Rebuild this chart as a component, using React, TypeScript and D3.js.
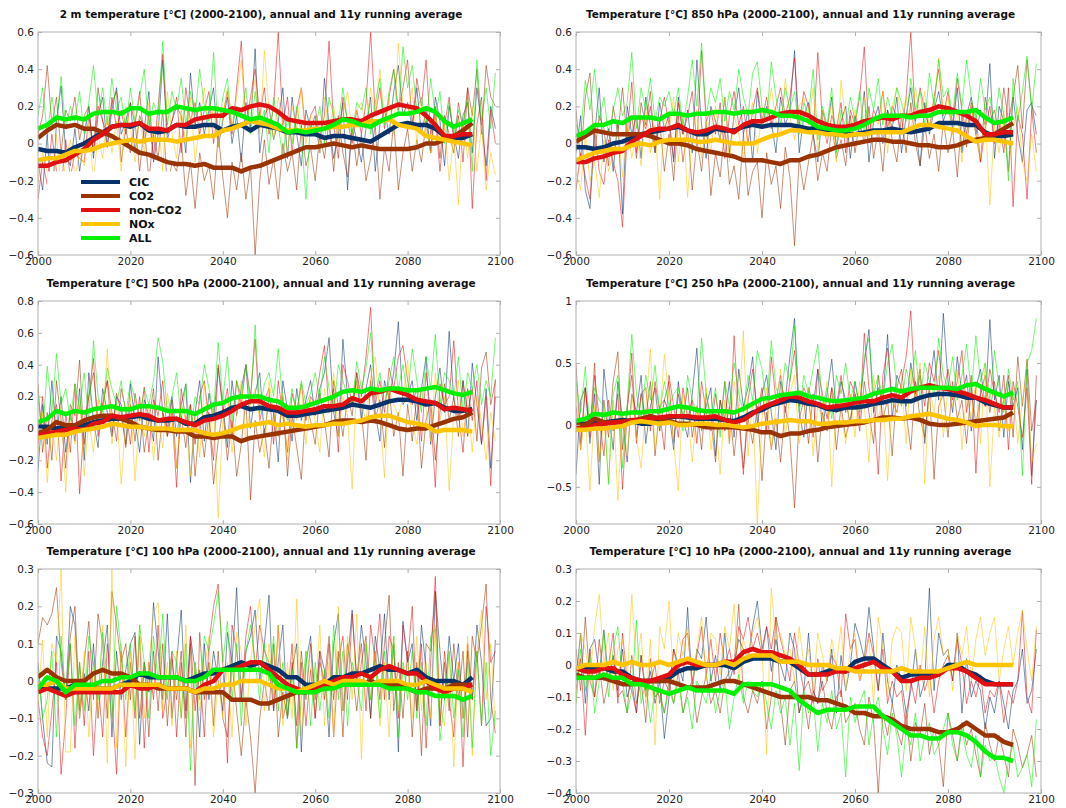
import React, { useEffect, useRef } from "react";
import * as d3 from "d3";

// all values in 1/100 degC
const annualYears = d3.range(2000, 2100);
const avgYears = d3.range(2000, 2096, 2);
const xTicks = [2000, 2020, 2040, 2060, 2080, 2100];
const seriesNames = ["CIC", "CO2", "non-CO2", "NOx", "ALL"];
const seriesColors = ["#07336a", "#9a3300", "#e01010", "#ffc400", "#00f000"];

// ---- 2 m temperature
const t2mCicAnn = [-10,-25,5,-38,12,31,-5,-12,8,-15, 3,20,-8,15,25,-2,18,30,5,12, 22,-5,15,8,28,-10,5,45,2,12, 20,15,-5,38,10,22,5,18,30,-2, 12,25,0,15,-10,22,8,51,-5,15, 20,2,12,30,-8,25,5,-12,18,8, 15,-5,35,10,-8,5,22,-25,12,2, -10,8,25,-15,10,18,5,28,42,15, 22,8,30,5,18,-5,25,12,-12,20, 5,-8,15,22,-5,30,10,-12,20,8];
const t2mCo2Ann = [5,15,42,10,25,-5,18,12,25,2, 15,20,-5,30,12,5,22,28,-10,8, -5,12,-15,10,-20,5,-8,18,-25,-10, -15,2,-28,-10,-35,-5,-20,-12,-30,5, -18,-40,-10,-25,-5,-30,-12,-60,-20,2, -22,-8,-30,0,-15,-5,-25,10,-12,-2, -20,5,-8,12,-15,15,-5,-18,8,-12, 5,-20,-8,10,-30,-2,-15,12,-25,-5, 8,-15,2,-10,12,-5,20,-8,15,5, -5,22,8,30,15,40,5,42,25,20];
const t2mNonAnn = [-30,-10,-22,5,-15,-25,2,-18,-5,-8, -10,15,-5,20,12,-2,25,8,18,5, 22,10,28,0,15,-8,20,48,5,12, 25,-5,30,12,22,5,18,28,0,20, 15,28,5,30,55,10,25,40,15,30, 5,20,60,10,25,-5,18,30,5,15, 20,2,15,55,10,-8,25,12,0,18, 5,22,60,15,30,8,25,40,18,30, 45,10,35,20,45,5,15,-15,10,25, 0,15,-10,30,-35,10,25,-20,18,0];
const t2mNoxAnn = [-20,-5,-15,-30,5,-25,-10,2,-18,-5, -12,10,-20,5,-8,15,-5,12,-15,20, 8,-10,15,-5,22,0,12,-15,28,5, -8,18,0,25,-10,12,30,5,20,-2, 15,30,8,25,45,12,20,35,5,50, 18,2,25,10,-5,20,8,30,0,15, 12,-5,25,8,20,0,15,28,5,18, 22,8,30,15,40,12,25,5,54,20, 15,30,0,22,8,-5,15,2,10,-20, 5,-33,12,-8,20,-15,10,-25,-5,-17];
const t2mAllAnn = [15,30,5,25,10,36,8,20,12,28, 5,22,42,15,30,10,35,18,25,8, 30,12,25,40,8,22,15,55,10,28, 18,35,10,28,15,40,20,12,49,5, 25,35,8,20,15,30,5,28,10,18, -5,25,10,-8,15,0,20,5,-30,12, 8,20,0,25,15,10,30,12,5,22, 18,30,5,22,35,10,28,40,15,52, 30,42,18,25,10,35,15,28,0,22, 5,18,10,25,-15,45,12,30,8,38];
const t2mCicAvg = [-3,-4,-4,-5,-2,0,3,6,9,10,9,11,7,6,7,10,9,9,10,10,7,9,10,7,10,9,8,6,6,5,5,3,4,4,3,2,1,4,7,10,11,10,10,8,4,3,3,5];
const t2mCo2Avg = [3,7,10,9,10,8,8,6,4,1,-2,-5,-6,-8,-10,-11,-11,-12,-11,-13,-13,-13,-15,-13,-12,-10,-8,-6,-4,-2,-2,-1,0,-1,-2,-1,-2,-3,-3,-3,-3,-2,0,0,2,4,7,11];
const t2mNonAvg = [-12,-12,-10,-9,-6,-3,2,5,9,10,10,11,8,8,7,10,10,13,14,15,15,19,18,20,21,20,17,13,12,11,11,11,12,13,13,12,15,17,19,21,20,19,15,10,4,4,5,5];
const t2mNoxAvg = [-9,-8,-8,-6,-4,-4,-3,-1,0,1,2,1,2,2,2,1,2,3,4,4,7,8,10,12,11,10,8,7,7,7,8,8,9,9,10,10,12,12,13,10,9,8,4,3,2,1,0,-1];
const t2mAllAvg = [8,10,14,13,14,13,16,17,17,16,19,19,16,17,17,20,19,18,19,19,18,17,15,13,14,12,10,6,7,6,7,8,10,13,12,10,9,12,14,16,16,17,19,17,12,9,11,13];

// ---- 850 hPa
const t850CicAnn = [-5,15,-25,-35,5,30,-10,8,-15,12, -38,20,5,15,-8,25,10,-5,22,8, 15,-10,25,5,18,-5,45,10,-8,20, 12,2,25,-5,15,30,5,18,-10,28, 8,20,12,-5,25,10,18,50,-5,15, 22,5,-10,18,8,25,-2,12,20,-8, 15,5,28,-10,12,20,0,18,8,25, -5,15,30,10,-12,22,5,18,28,12, 20,8,30,-5,15,25,5,18,10,43, -8,20,12,-15,25,5,-10,18,22,5];
const t850Co2Ann = [18,-10,25,38,-5,15,8,-12,20,5, 30,2,15,-8,22,10,28,-5,12,-15, 5,-20,15,-10,8,-25,2,-15,12,-28, -5,-18,8,-22,-12,-30,5,-28,-15,-10, -40,-5,-22,-12,-35,-2,-18,-55,-8,-25, -10,5,-20,-5,-15,10,-8,2,-12,15, -5,12,0,20,-8,8,-15,18,2,-10, 15,-5,22,0,-12,10,-8,5,-15,12, -5,8,-18,15,-2,20,5,-10,25,12, 18,5,30,12,25,42,8,45,20,15];
const t850NonAnn = [-25,-5,-18,-30,8,-15,-22,2,-10,-20, -45,5,33,-5,15,8,20,-2,12,25, 10,-8,22,5,15,28,0,50,12,18, 5,22,-8,15,28,10,20,0,18,30, 12,25,8,20,30,15,25,46,10,28, 20,5,49,12,0,15,8,22,-5,18, 10,25,52,5,18,12,28,8,20,15, 5,25,60,12,30,18,8,25,40,15, 28,10,35,18,5,22,15,-10,8,20, 0,12,-5,30,-34,15,5,-30,18,-5];
const t850NoxAnn = [-15,-25,5,-20,-10,-29,2,-15,-5,8, -18,12,-8,5,-12,20,-5,10,-30,15, 8,25,-10,15,-29,5,18,-8,12,-5, 20,2,25,-10,15,5,-8,10,22,-5, 18,8,30,12,5,35,15,2,20,25, 10,30,-5,18,8,22,-10,34,12,5, 18,8,25,2,15,10,28,-5,20,30, 12,25,5,30,15,28,8,20,46,15, 25,5,18,-10,12,20,5,-8,15,-33, 10,-5,18,-15,8,20,-10,-20,5,-15];
const t850AllAnn = [10,5,34,18,40,12,25,5,18,30, 15,22,49,8,30,18,35,12,25,20, 28,15,30,10,25,45,20,54,15,30, 22,35,12,28,18,40,25,15,38,44, 20,12,44,25,10,30,18,28,5,22, 15,40,2,20,10,30,-5,18,8,25, 12,28,5,30,18,35,10,25,15,30, 22,12,35,18,28,10,38,20,45,25, 30,15,38,20,45,25,12,35,18,25, 10,30,15,-20,35,12,28,47,18,43];
const t850CicAvg = [-2,-2,-3,-2,0,1,3,5,6,7,8,9,7,5,5,8,7,7,9,10,9,10,10,10,9,8,8,6,5,5,5,6,7,7,8,7,6,7,8,11,11,11,10,10,6,4,4,5];
const t850Co2Avg = [1,4,7,6,5,5,5,5,4,2,0,0,-1,-3,-4,-5,-6,-7,-9,-9,-9,-10,-11,-9,-9,-7,-6,-4,-2,-1,0,1,2,2,1,1,0,-1,-1,-2,-2,-1,1,2,3,5,8,11];
const t850NonAvg = [-10,-10,-8,-7,-5,-4,1,4,7,8,8,10,7,6,7,9,8,6,10,12,12,14,16,17,17,15,12,10,9,9,10,12,13,14,13,15,15,17,18,20,19,17,15,12,5,5,6,6];
const t850NoxAvg = [-9,-7,-5,-4,-3,-3,-1,0,-1,1,2,2,2,1,1,2,1,0,0,0,2,4,5,7,7,6,6,5,5,4,5,5,6,6,6,6,8,10,10,9,8,7,4,1,2,2,1,0];
const t850AllAvg = [4,6,10,10,12,11,14,14,14,13,16,16,15,16,16,17,17,16,17,17,18,17,15,15,14,12,9,8,7,7,8,10,13,15,15,15,14,15,15,17,17,17,17,18,14,11,12,14];

// ---- 500 hPa
const t500CicAnn = [-27,15,-10,30,-5,20,-15,10,-8,25, -20,35,5,-12,25,10,-5,20,15,-10, 28,5,-15,18,8,-8,45,10,0,20, -5,15,28,-34,10,30,-8,22,5,38, 15,-12,30,8,25,40,0,22,35,-5, 20,10,-21,30,12,-8,25,5,18,30, 8,25,35,57,10,-5,56,20,15,30, 5,25,40,10,-8,30,18,35,67,15, 20,30,5,25,45,-10,20,38,10,61, 18,5,30,-5,41,15,-10,25,-25,20];
const t500Co2Ann = [28,-15,10,-20,30,5,-25,15,8,43, -10,20,35,5,15,30,-5,22,10,-12, 15,-8,20,-15,5,25,-20,10,-5,18, -25,8,-12,15,-30,5,-18,10,-35,-8, 12,-20,5,-30,-10,18,-45,5,-15,0, -25,10,-5,20,-30,8,-12,-32,15,5, -10,22,5,-18,30,15,-5,20,8,35, 10,-20,30,5,18,-12,25,-5,10,-30, 15,-8,20,-25,5,18,-20,10,28,5, 20,-5,30,10,25,-8,38,48,15,30];
const t500NonAnn = [-10,20,-25,5,15,-33,10,-15,28,-41, 5,20,44,-5,15,30,10,-8,25,12, -10,22,5,26,-15,18,8,30,-5,10, -37,25,5,15,-10,20,30,5,-20,40, 10,25,-5,30,15,40,20,56,5,18, 25,-10,30,8,-15,22,10,28,5,20, 15,35,52,10,25,-15,40,30,15,35, 20,45,76,15,30,10,38,25,45,52, 30,15,25,-8,35,10,-37,28,15,20, 55,10,-15,25,5,30,-10,20,-36,31];
const t500NoxAnn = [-15,10,-34,5,-20,15,-40,8,-10,20, -30,5,-15,18,2,50,-10,15,-35,5, 20,-33,10,-5,15,-20,8,-12,22,5, -25,15,5,-30,10,-18,28,-5,15,-56, 5,20,-15,10,30,-8,15,25,5,-18, 30,10,-5,22,-20,15,5,28,-10,18, 5,-15,25,10,35,-5,20,8,-38,30, 15,5,32,45,10,-31,25,15,8,20, 43,5,-10,25,12,-8,35,5,20,-39, 10,30,-5,15,-15,20,5,-20,10,-8];
const t500AllAnn = [20,-5,39,10,47,15,25,5,28,12, 35,5,55,20,10,38,25,15,30,8, 30,18,5,25,15,30,57,42,10,20, 35,5,28,-5,20,15,40,25,10,54, 18,45,5,30,20,40,15,65,10,28, 35,20,50,15,5,25,10,30,15,22, 35,18,45,25,10,40,30,20,15,42, 25,38,60,20,35,15,30,45,25,40, 20,50,30,10,45,25,59,15,35,30, 20,45,10,35,25,40,15,30,20,57];
const t500CicAvg = [1,1,0,1,2,2,4,5,6,6,7,8,6,5,5,6,3,3,7,8,10,13,14,12,13,12,11,8,8,9,10,11,12,13,15,14,13,15,17,18,18,17,15,16,13,11,11,12];
const t500Co2Avg = [-3,-1,4,2,2,5,7,8,8,6,4,1,0,-1,-1,-2,-2,-5,-5,-6,-5,-5,-8,-6,-5,-4,-3,-2,-1,0,1,2,4,5,5,4,5,4,2,0,-1,0,0,2,4,6,7,10];
const t500NonAvg = [-4,-3,-2,-1,0,-1,3,4,8,7,8,9,8,5,6,6,4,2,5,6,8,11,15,17,17,14,13,10,10,11,12,14,14,15,19,17,22,23,25,23,21,18,17,16,12,13,12,11];
const t500NoxAvg = [-6,-5,-4,-4,-2,-1,0,1,3,2,1,1,0,0,0,-1,-1,-1,-3,-4,-3,-1,1,2,3,4,2,3,2,1,2,2,3,3,4,5,7,8,8,6,4,3,2,-2,-1,-1,-1,-2];
const t500AllAvg = [4,6,11,9,11,10,12,13,14,12,12,14,14,13,11,11,11,9,12,15,16,19,20,20,20,18,17,13,13,14,16,18,20,23,24,23,25,24,25,25,24,24,25,26,24,22,21,23];

// ---- 250 hPa
const t250CicAnn = [-40,20,30,-15,25,-48,45,10,-20,35, 5,-30,25,10,40,-15,15,30,-5,20, 10,-20,35,5,-10,25,62,-5,15,30, -25,20,5,35,-10,45,15,30,55,0, 25,40,10,-20,35,20,55,86,10,-10, 30,15,45,-5,25,53,10,35,20,0, 35,15,50,77,10,30,20,73,5,40, 30,15,50,25,45,-15,30,60,20,90, 35,10,55,25,40,-5,30,45,15,85, 20,40,-10,35,15,30,-20,45,-41,20];
const t250Co2Ann = [49,-15,30,-5,50,-30,20,-10,35,59, -20,15,40,-10,25,5,35,-25,15,20, 35,-15,25,5,30,-10,15,-20,25,5, -30,20,-5,15,-25,10,-35,5,-15,15, -45,10,-20,5,-30,15,-10,-67,5,20, -15,25,-30,10,-5,30,-20,15,-10,5, 25,-5,35,10,-15,40,5,20,-25,30, 45,10,-20,35,5,-10,30,-44,15,25, -10,35,5,20,-15,30,0,25,40,10, 35,-5,20,40,-10,55,15,53,-5,20];
const t250NonAnn = [15,-20,30,-10,40,5,-25,20,-5,25, -52,10,58,-15,25,30,-5,35,10,-20, 40,15,-10,30,5,20,-15,35,10,-5, 25,0,35,-15,72,5,-40,20,45,10, 30,-5,55,20,40,10,35,60,15,30, 20,-10,45,25,5,30,15,40,10,35, 25,5,74,30,15,-40,40,62,20,10, 35,55,92,20,40,15,50,35,60,25, 45,20,35,60,10,40,-39,30,15,45, 25,10,40,-20,35,15,-10,30,-48,40];
const t250NoxAnn = [28,-20,10,-53,15,-30,5,-45,20,-61, 10,-25,25,-10,-35,15,61,-20,5,57, 20,-15,-53,25,10,-30,15,-5,30,-20, 5,-40,20,-15,35,10,76,-25,20,-80, 5,30,-20,15,45,-10,25,40,-15,10, 30,-25,15,5,35,-50,20,10,-15,25, -10,35,15,-30,40,5,25,-45,20,10, 35,-15,45,20,50,-48,30,10,40,-10, 30,15,45,-20,25,5,35,-15,50,-50, 15,-10,25,-5,30,-15,20,40,-30,-15];
const t250AllAnn = [35,10,47,-5,30,20,15,-48,25,40, -35,15,73,25,5,40,20,48,10,35, 15,25,30,-5,40,20,10,70,25,5, 30,-10,35,15,50,25,10,40,20,60, 45,15,68,30,20,50,35,80,10,40, 25,45,65,15,30,5,40,25,50,20, 35,10,55,70,25,40,20,50,65,30, 15,45,30,60,20,50,35,25,70,40, 30,55,20,40,65,25,72,35,50,20, 60,30,10,45,20,35,-41,50,60,86];
const t250CicAvg = [1,1,2,2,3,4,3,1,1,5,6,7,6,5,5,5,4,3,6,10,12,16,18,20,19,17,16,13,12,14,14,15,17,18,20,19,19,22,24,25,25,24,22,22,18,16,14,14];
const t250Co2Avg = [0,0,5,2,2,3,3,5,7,5,3,1,1,0,-2,-2,-2,-2,-3,-4,-6,-6,-9,-7,-7,-5,-4,-2,-1,0,1,2,4,6,6,5,6,4,1,0,0,1,2,3,4,5,6,10];
const t250NonAvg = [-3,-3,0,1,2,2,4,4,5,6,7,7,7,6,6,7,4,2,4,9,14,17,20,23,22,19,17,14,15,16,18,19,19,22,24,22,27,30,32,30,29,27,25,22,20,17,14,14];
const t250NoxAvg = [-4,-4,-3,-3,-2,-1,2,3,2,1,2,0,0,1,1,0,0,-1,-2,-1,1,2,3,4,3,3,1,1,2,2,3,3,4,4,5,5,7,8,9,7,5,4,2,-1,0,0,-1,-1];
const t250AllAvg = [3,5,9,8,10,9,10,10,11,11,13,15,14,12,11,11,11,10,13,17,21,22,24,25,26,23,22,20,19,20,21,22,25,27,29,27,29,30,30,30,30,29,32,33,29,26,23,26];

// ---- 100 hPa
const t100CicAnn = [5,-10,-22,-23,12,8,-5,20,15,-10, 2,-8,10,-10,5,15,-15,8,-5,3, 10,13,-17,5,-3,21,8,-5,18,-10, 5,19,-8,12,3,-15,10,-5,8,0, -8,13,5,25,-5,8,12,19,0,10, 23,-8,5,15,-10,3,10,-19,5,12, -5,8,3,-15,10,18,-8,5,19,0, 15,5,-10,12,3,18,-5,10,-19,16, 5,10,-8,15,3,-12,24,8,-5,12, 0,10,-10,8,-5,15,5,-12,-10,11];
const t100Co2Ann = [10,17,15,18,25,5,-5,12,20,-8, 5,16,-5,18,10,-10,24,15,5,10, -5,12,-10,5,-15,8,-8,10,-12,6, -5,8,-15,10,-28,13,-5,5,-12,8, -10,-15,5,-8,-20,-5,-15,-30,-10,0, -8,10,-15,-3,-10,5,-12,8,-5,10, -10,5,0,12,-5,8,-15,10,3,-8, 5,12,-10,8,-5,10,23,-8,5,-10, 8,-15,5,-20,10,8,24,-12,5,-8, 10,-5,8,-15,12,5,15,26,-5,-14];
const t100NonAnn = [-5,-15,-20,-8,5,-25,-10,10,-18,5, -12,8,-20,0,-15,10,-5,-25,8,-15, 5,-10,12,-18,5,-5,15,-10,-2,8, -15,5,-10,12,-8,3,-15,10,20,26, 5,-22,15,8,-5,12,20,3,15,8, 5,-8,15,-10,-5,10,-18,5,-12,3, -10,8,-5,10,-15,5,12,-5,18,0, 10,-8,15,5,18,-5,12,8,-10,15, 5,20,-8,10,-18,5,28,-12,8,-5, -15,5,-23,10,-5,8,-12,20,5,8];
const t100NoxAnn = [-5,11,-15,10,5,30,-19,-19,12,-10, 8,-15,5,-10,15,-22,30,-18,10,-23, 8,-21,15,-10,5,18,21,-8,5,-12, 8,-10,15,-18,5,-8,3,12,-15,0, -10,5,-15,13,8,-12,5,15,22,-8, 10,-5,15,-12,5,-10,22,-15,8,3, -5,15,-12,5,-15,20,-8,12,-5,18, -21,10,-5,8,-12,5,-15,12,-8,3, 5,-10,12,-8,5,-10,15,-5,-12,8, -23,5,-10,12,-20,8,19,-5,10,-12];
const t100AllAnn = [3,-10,-5,8,-15,12,-5,10,-12,5, -8,12,5,-5,13,0,-10,20,8,-5, 10,-8,15,5,-10,12,0,18,-5,8, 5,-10,10,-24,5,-5,12,8,15,24, 5,16,-5,10,-12,8,15,5,-5,10, 0,12,-8,5,-10,3,-18,-5,8,-12, 5,-8,3,-10,15,-5,8,-12,5,0, -8,10,-5,5,-10,8,-3,12,-15,5, -5,8,-10,5,-12,12,14,-16,-5,8, -10,3,-15,5,-18,8,-12,5,-20,-8];
const t100CicAvg = [-2,-2,-2,-2,-1,-1,-2,-2,-2,-1,0,2,1,1,1,1,0,1,2,2,3,4,5,4,5,4,3,1,1,-1,-1,-1,1,1,2,2,3,4,3,3,2,3,1,0,0,0,-1,1];
const t100Co2Avg = [1,3,1,0,0,0,2,3,2,2,1,-1,-1,-2,-2,-2,-2,-3,-3,-3,-3,-5,-5,-5,-6,-6,-5,-4,-3,-3,-2,-2,-1,-1,-1,-1,0,-1,-1,-1,-2,-3,-2,-2,-2,-1,-1,-1];
const t100NonAvg = [-3,-2,-3,-4,-3,-3,-3,-3,-3,-3,-1,-2,-2,-1,-2,-2,-2,-3,-1,0,3,3,4,5,5,3,1,-1,-2,-3,-2,-1,0,1,1,2,1,3,4,3,2,2,0,-2,-3,-2,-2,-1];
const t100NoxAvg = [-1,-1,0,-2,-2,-2,-2,-2,-2,-1,-1,-1,-1,-1,-2,-2,-2,-3,-2,-2,-1,-1,0,0,0,-1,-2,-2,-3,-2,-1,0,-1,0,0,0,-1,0,0,0,-1,-1,0,-1,-2,-2,-2,-3];
const t100AllAvg = [-2,1,0,-3,-1,-1,-1,0,0,1,1,2,2,1,1,1,0,0,1,3,3,3,3,3,3,2,-1,-2,-3,-3,-3,-2,-2,-1,-1,-1,-1,-1,-2,-2,-2,-3,-3,-4,-4,-4,-5,-4];

// ---- 10 hPa
const t10CicAnn = [-5,10,-12,5,8,-3,11,-5,3,-8, 5,-10,-5,-15,3,-8,-2,-12,-5,-23, -10,5,0,-5,18,-8,5,2,15,-5, 3,-8,10,-5,0,8,5,2,12,20, 5,12,-2,8,0,-5,10,5,-15,-8, 10,-8,-12,0,-5,5,-15,3,-8,0, 13,8,2,18,5,-8,10,-5,-12,0, -5,-15,-8,5,-10,-5,24,-8,10,3, 5,-5,10,-15,2,-10,-5,-8,-20,-10, -15,-5,-12,-20,-8,-5,5,-12,-8,5];
const t10Co2Ann = [5,-8,15,-5,-10,0,-12,-5,2,-10, -8,-15,3,-12,-5,-18,2,-10,-8,-15, -5,-12,-2,-15,-8,-5,-18,-10,-3,-12, -8,-15,-5,-2,0,19,-10,-15,-8,-12, -5,-20,-10,15,-12,-25,-8,-5,-15,-10, -20,-8,-12,-5,-15,-20,-10,-8,-18,-15, -12,-20,-25,-10,-18,-40,-15,-22,-12,-20, -25,-15,-30,-18,-22,-12,-28,-20,-25,-38, -15,-22,-30,-18,-25,-20,-28,-35,-18,-25, -30,-22,-28,-35,-20,-25,-32,-28,-22,-35];
const t10NonAnn = [-8,2,-22,5,-10,8,-5,0,10,-12, 10,-5,-8,-15,3,-10,-5,0,-12,-5, -8,5,-2,8,10,-5,3,12,-3,8, -5,10,0,5,-3,12,8,15,5,10, 3,12,5,15,8,2,-5,10,0,-8, -5,-12,2,-8,-5,3,0,-10,16,5, 8,-5,0,10,3,-8,5,-12,-5,-10, -8,-20,-5,-12,0,-8,-3,-15,-5,0, 3,-5,8,0,-12,-5,-10,-3,-15,-8, -10,-5,-18,-8,-12,-5,17,-10,-15,11];
const t10NoxAnn = [-12,10,5,-5,12,22,0,10,-8,5, 8,-5,22,0,10,-12,8,-25,12,5, 20,-5,10,3,12,-8,5,15,-5,10, 8,-3,12,5,19,-5,8,3,10,15, 5,-28,24,8,10,3,5,-5,12,0, 5,-8,10,3,-5,8,0,12,-8,5, 10,-5,3,8,-12,15,5,-10,8,12, 10,-8,15,5,-5,12,-10,8,15,3, 5,-8,10,3,12,-5,8,15,3,10, 15,-5,5,12,0,10,17,5,-5,12];
const t10AllAnn = [-12,5,-8,3,-15,-5,10,-10,5,12, -5,-15,-8,14,-12,-5,-18,-8,-10,-15, -8,-12,-5,-15,-10,-20,-5,-8,-12,-3, -15,-8,-5,-20,-10,-3,-12,-5,-8,-10, -5,-12,-20,-8,-15,-10,-25,-12,-33,-8, -15,-10,-27,-12,-18,-8,-20,-15,-35,-10, -18,-12,-8,-25,-15,-10,-20,-28,-15,-22, -35,-20,-25,-15,-30,-22,-18,-28,-25,-20, -15,-25,-30,-20,-28,-32,-22,-35,-25,-30, -28,-35,-40,-30,-25,-35,-32,-28,-38,-17];
const t10CicAvg = [-1,-1,-1,-1,-2,-2,-4,-5,-5,-5,-4,-2,-1,-1,0,0,0,-1,1,2,2,2,1,1,-1,-3,-3,-2,-1,-2,1,2,2,0,-2,-4,-3,-3,-3,-3,0,0,-2,-3,-5,-6,-6,-6];
const t10Co2Avg = [-3,-4,-4,-4,-5,-6,-6,-5,-5,-5,-5,-6,-7,-7,-7,-6,-5,-5,-6,-7,-8,-9,-10,-10,-10,-10,-11,-11,-12,-13,-15,-15,-16,-16,-17,-19,-20,-20,-20,-21,-21,-20,-18,-20,-22,-22,-24,-25];
const t10NonAvg = [-1,-2,-2,-1,-1,-3,-4,-5,-5,-4,-3,0,1,0,0,0,1,1,4,5,4,4,3,2,0,-3,-3,-3,-2,-2,-1,0,1,-1,-2,-5,-5,-4,-4,-3,-1,-1,-2,-4,-6,-6,-6,-6];
const t10NoxAvg = [-1,0,0,0,1,0,1,0,0,1,0,1,2,1,0,0,1,0,2,3,3,3,1,1,1,0,0,0,-1,-1,-2,-2,-2,-2,-2,-1,-2,-2,-2,-2,-1,0,1,0,0,0,0,0];
const t10AllAvg = [-4,-4,-4,-3,-4,-4,-6,-6,-7,-8,-9,-8,-7,-8,-8,-8,-8,-9,-6,-6,-6,-6,-7,-8,-11,-13,-15,-14,-14,-14,-13,-13,-13,-16,-18,-20,-22,-22,-23,-23,-21,-21,-22,-24,-27,-29,-29,-30];

const titles = [
  "2 m temperature [°C] (2000-2100), annual and 11y running average",
  "Temperature [°C] 850 hPa (2000-2100), annual and 11y running average",
  "Temperature [°C] 500 hPa (2000-2100), annual and 11y running average",
  "Temperature [°C] 250 hPa (2000-2100), annual and 11y running average",
  "Temperature [°C] 100 hPa (2000-2100), annual and 11y running average",
  "Temperature [°C] 10 hPa (2000-2100), annual and 11y running average",
];
const yDomains = [[-0.6, 0.6], [-0.6, 0.6], [-0.6, 0.8], [-0.8, 1], [-0.3, 0.3], [-0.4, 0.3]];
const yTicks = [
  [-0.6, -0.4, -0.2, 0, 0.2, 0.4, 0.6],
  [-0.6, -0.4, -0.2, 0, 0.2, 0.4, 0.6],
  [-0.6, -0.4, -0.2, 0, 0.2, 0.4, 0.6, 0.8],
  [-0.5, 0, 0.5, 1],
  [-0.3, -0.2, -0.1, 0, 0.1, 0.2, 0.3],
  [-0.4, -0.3, -0.2, -0.1, 0, 0.1, 0.2, 0.3],
];
const annual = [
  [t2mCicAnn, t2mCo2Ann, t2mNonAnn, t2mNoxAnn, t2mAllAnn],
  [t850CicAnn, t850Co2Ann, t850NonAnn, t850NoxAnn, t850AllAnn],
  [t500CicAnn, t500Co2Ann, t500NonAnn, t500NoxAnn, t500AllAnn],
  [t250CicAnn, t250Co2Ann, t250NonAnn, t250NoxAnn, t250AllAnn],
  [t100CicAnn, t100Co2Ann, t100NonAnn, t100NoxAnn, t100AllAnn],
  [t10CicAnn, t10Co2Ann, t10NonAnn, t10NoxAnn, t10AllAnn],
];
const running = [
  [t2mCicAvg, t2mCo2Avg, t2mNonAvg, t2mNoxAvg, t2mAllAvg],
  [t850CicAvg, t850Co2Avg, t850NonAvg, t850NoxAvg, t850AllAvg],
  [t500CicAvg, t500Co2Avg, t500NonAvg, t500NoxAvg, t500AllAvg],
  [t250CicAvg, t250Co2Avg, t250NonAvg, t250NoxAvg, t250AllAvg],
  [t100CicAvg, t100Co2Avg, t100NonAvg, t100NoxAvg, t100AllAvg],
  [t10CicAvg, t10Co2Avg, t10NonAvg, t10NoxAvg, t10AllAvg],
];

const colX = [[38, 500], [576, 1041]];
const rowY = [[32, 255], [301, 524], [569, 793]];
const FONT = "'DejaVu Sans', sans-serif";

export default function App() {
  const ref = useRef<SVGSVGElement>(null);

  useEffect(() => {
    const svg = d3.select(ref.current);
    svg.selectAll("*").remove();
    const defs = svg.append("defs");

    titles.forEach((title, i) => {
      const [left, right] = colX[i % 2];
      const [top, bottom] = rowY[Math.floor(i / 2)];
      const x = d3.scaleLinear().domain([2000, 2100]).range([left, right]);
      const y = d3.scaleLinear().domain(yDomains[i]).range([bottom, top]);

      defs.append("clipPath").attr("id", "clip" + i)
        .append("rect")
        .attr("x", left).attr("y", top)
        .attr("width", right - left).attr("height", bottom - top);

      const g = svg.append("g");
      const plot = g.append("g").attr("clip-path", `url(#clip${i})`);

      const thinLine = d3.line<number>()
        .x((d, j) => x(annualYears[j]))
        .y((d) => y(d / 100));
      const thickLine = d3.line<number>()
        .x((d, j) => x(avgYears[j]))
        .y((d) => y(d / 100));

      annual[i].forEach((vals, k) => {
        plot.append("path")
          .attr("d", thinLine(vals))
          .attr("fill", "none")
          .attr("stroke", seriesColors[k])
          .attr("stroke-width", 0.9)
          .attr("stroke-opacity", 0.6);
      });

      if (i === 0) {
        // legend box hides the thin lines under it
        plot.append("rect")
          .attr("x", x(2002)).attr("y", y(-0.15))
          .attr("width", x(2031) - x(2002)).attr("height", bottom - y(-0.15) - 1)
          .attr("fill", "white");
      }

      running[i].forEach((vals, k) => {
        plot.append("path")
          .attr("d", thickLine(vals))
          .attr("fill", "none")
          .attr("stroke", seriesColors[k])
          .attr("stroke-width", 4.5)
          .attr("stroke-linejoin", "round");
      });

      // frame
      g.append("rect")
        .attr("x", left).attr("y", top)
        .attr("width", right - left).attr("height", bottom - top)
        .attr("fill", "none").attr("stroke", "#b0b0b0");

      const styleAxis = (sel: any) => {
        sel.select(".domain").remove();
        sel.selectAll("line").attr("stroke", "#b0b0b0");
        sel.selectAll("text").attr("fill", "#222").style("font-family", FONT).style("font-size", "10.5px");
      };

      g.append("g").attr("transform", `translate(0,${bottom})`)
        .call(d3.axisBottom(x).tickValues(xTicks).tickSize(-4).tickPadding(3).tickFormat(d3.format("d")))
        .call(styleAxis);
      g.append("g").attr("transform", `translate(0,${top})`)
        .call(d3.axisTop(x).tickValues(xTicks).tickSize(-4).tickFormat(() => ""))
        .call(styleAxis);
      g.append("g").attr("transform", `translate(${left},0)`)
        .call(d3.axisLeft(y).tickValues(yTicks[i]).tickSize(-4).tickPadding(4).tickFormat(d3.format("~g")))
        .call(styleAxis);
      g.append("g").attr("transform", `translate(${right},0)`)
        .call(d3.axisRight(y).tickValues(yTicks[i]).tickSize(-4).tickFormat(() => ""))
        .call(styleAxis);

      g.append("text")
        .attr("x", (left + right) / 2 - 8)
        .attr("y", top - 14)
        .attr("text-anchor", "middle")
        .style("font-family", FONT)
        .style("font-size", "10.5px")
        .style("font-weight", "bold")
        .attr("fill", "#111")
        .text(title);

      if (i === 0) {
        const legend = g.append("g");
        seriesNames.forEach((name, k) => {
          const ly = 182 + k * 14;
          legend.append("line")
            .attr("x1", 81).attr("x2", 120)
            .attr("y1", ly).attr("y2", ly)
            .attr("stroke", seriesColors[k])
            .attr("stroke-width", 4);
          legend.append("text")
            .attr("x", 129).attr("y", ly + 4)
            .style("font-family", FONT)
            .style("font-size", "11px")
            .style("font-weight", "bold")
            .attr("fill", "#111")
            .text(name);
        });
      }
    });
  }, []);

  return (
    <div style={{ position: "absolute", left: 0, top: 0, background: "white" }}>
      <svg ref={ref} width={1066} height={808} />
    </div>
  );
}
